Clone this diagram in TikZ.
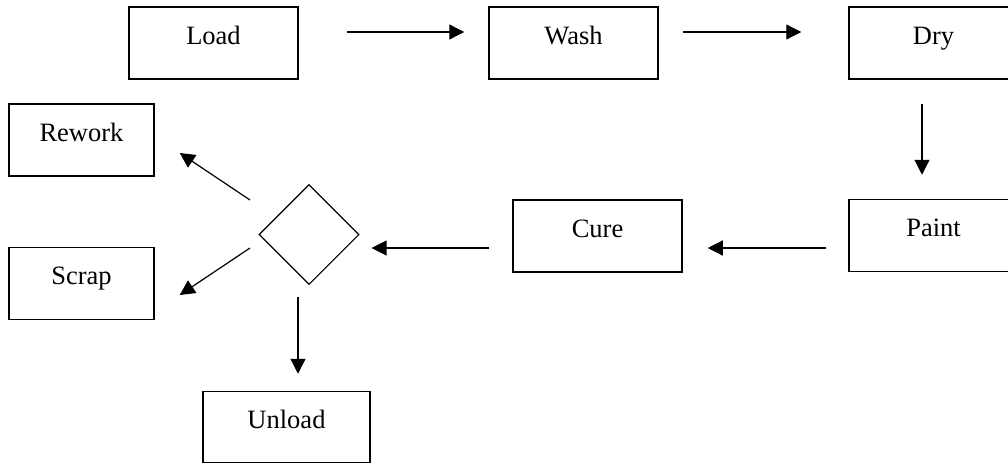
\documentclass[tikz,border=0pt]{standalone}
\usepackage{fontspec}
\setmainfont{Liberation Serif}
\usetikzlibrary{arrows.meta,shapes.geometric}
\begin{document}
\begin{tikzpicture}[x=1pt,y=-1pt,
  box/.style={draw,line width=1.5pt,rectangle,inner sep=0pt,minimum width=169pt,
    text height=37pt,text depth=35pt,font=\fontsize{26.5}{30}\selectfont},
  dec/.style={draw,line width=1.1pt,diamond,aspect=1,inner sep=0pt,minimum width=100pt,minimum height=100pt},
  arr/.style={line width=1.2pt,-{Triangle[length=15pt,width=15pt]}}]
\path[use as bounding box,clip] (0,0) rectangle (1008,463);
\fill[white] (0,0) rectangle (1008,463);
\node[box] (load) at (213.5,43) {Load};
\node[box] (wash) at (573.5,43) {Wash};
\node[box] (dry) at (933.5,43) {Dry};
\node[box] (paint) at (933.5,235.5) {Paint};
\node[box] (cure) at (597.5,236) {Cure};
\node[box,minimum width=145pt] (rework) at (81.5,140) {Rework};
\node[box,minimum width=145pt] (scrap) at (81.5,283.5) {Scrap};
\node[box,minimum width=167pt,text depth=34pt] (unload) at (286.5,427) {Unload};
\node[dec] (d) at (309,234.5) {};
\draw[arr] ([shift={(48,-11)}]load.east) -- ([shift={(-24,-11)}]wash.west);
\draw[arr] ([shift={(24,-11)}]wash.east) -- ([shift={(-47,-11)}]dry.west);
\draw[arr] ([shift={(-11.5,24)}]dry.south) -- ([shift={(-11.5,-24)}]paint.north);
\draw[arr] ([shift={(-22,12.5)}]paint.west) -- ([shift={(25,12)}]cure.east);
\draw[arr] ([shift={(-23,12)}]cure.west) -- ([shift={(12,13.5)}]d.east);
\draw[arr] ([shift={(-59,-34.5)}]d.center) -- ([shift={(25,13)}]rework.east);
\draw[arr] ([shift={(-59,13.5)}]d.center) -- ([shift={(25,11.5)}]scrap.east);
\draw[arr] ([shift={(-11,11.5)}]d.south) -- ([shift={(11.5,-17)}]unload.north);
\end{tikzpicture}
\end{document}
